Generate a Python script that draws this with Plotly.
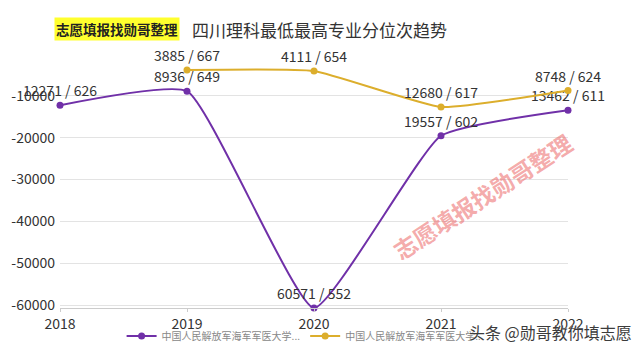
import plotly.graph_objects as go

# 四川理科 历年最低/最高专业位次与分数
years = ["2018", "2019", "2020", "2021", "2022"]

# 系列一（紫色）：位次与分数
purple_rank = [12271, 8936, 60571, 19557, 13462]
purple_score = [626, 649, 552, 602, 611]

# 系列二（金色）：2018 无数据
gold_rank = [None, 3885, 4111, 12680, 8748]
gold_score = [None, 667, 654, 617, 624]

series_names = ["中国人民解放军海军军医大学...", "中国人民解放军海军军医大学..."]

y_ticks = [-10000, -20000, -30000, -40000, -50000, -60000]

PURPLE = "#7030a8"
GOLD = "#dcae2c"
FONT = "Noto Sans CJK SC"


def neg(vals):
    return [None if v is None else -v for v in vals]


def labels(ranks, scores):
    return ["" if r is None else f"{r} / {s}" for r, s in zip(ranks, scores)]


fig = go.Figure()

for name, ranks, scores, color in [
    (series_names[0], purple_rank, purple_score, PURPLE),
    (series_names[1], gold_rank, gold_score, GOLD),
]:
    fig.add_trace(go.Scatter(
        x=years,
        y=neg(ranks),
        name=name,
        mode="lines+markers+text",
        line=dict(color=color, width=2, shape="spline", smoothing=0.42),
        marker=dict(color=color, size=7),
        text=labels(ranks, scores),
        textposition="top center",
        textfont=dict(family=FONT, size=14, color="#333333"),
        cliponaxis=False,
    ))

fig.update_layout(
    width=640,
    height=350,
    margin=dict(l=60, r=72, t=60, b=42),
    paper_bgcolor="white",
    plot_bgcolor="white",
    font=dict(family=FONT, color="#333333"),
    showlegend=True,
    legend=dict(
        orientation="h",
        xref="container", yref="container",
        x=0.19, xanchor="left",
        y=0.04, yanchor="middle",
        font=dict(family=FONT, size=10, color="#888888"),
        bgcolor="rgba(0,0,0,0)",
        itemwidth=30,
        tracegroupgap=0,
    ),
    xaxis=dict(
        type="category",
        range=[0, 4],
        automargin=False,
        showgrid=False,
        showline=True,
        linecolor="#cccccc",
        linewidth=1,
        ticks="outside",
        ticklen=3,
        tickcolor="#cccccc",
        ticklabelstandoff=0,
        tickfont=dict(family=FONT, size=14, color="#333333"),
        zeroline=False,
        fixedrange=True,
    ),
    yaxis=dict(
        range=[-60600, -1500],
        automargin=False,
        tickvals=y_ticks,
        ticktext=[str(v) for v in y_ticks],
        showgrid=True,
        gridcolor="#e3e3e3",
        gridwidth=1,
        zeroline=False,
        showline=False,
        ticks="",
        ticklabelstandoff=4,
        tickfont=dict(family=FONT, size=14, color="#333333"),
    ),
)

annotations = [
    # 标题左侧高亮标签
    dict(
        text="<b>志愿填报找勋哥整理</b>",
        x=-0.012, xref="paper", xanchor="left",
        y=1.125, yref="paper", yanchor="middle",
        showarrow=False,
        bgcolor="#ffff2e",
        borderpad=1,
        font=dict(family=FONT, size=13.5, color="#222222"),
    ),
    # 标题
    dict(
        text="四川理科最低最高专业分位次趋势",
        x=0.255, xref="paper", xanchor="left",
        y=1.125, yref="paper", yanchor="middle",
        showarrow=False,
        font=dict(family=FONT, size=17, color="#333333"),
    ),
    # 斜向水印
    dict(
        text="<b>志愿填报找勋哥整理</b>",
        x=0.832, xref="paper", xanchor="center",
        y=0.45, yref="paper", yanchor="middle",
        textangle=-33,
        showarrow=False,
        font=dict(family=FONT, size=23, color="rgba(236,100,100,0.55)"),
    ),
    # 右下角署名
    dict(
        text="头条 @勋哥教你填志愿",
        x=1.13, xref="paper", xanchor="right",
        y=-0.097, yref="paper", yanchor="middle",
        showarrow=False,
        font=dict(family=FONT, size=16, color="#3c3c3c",
                  shadow="0px 0px 2px white"),
    ),
]
fig.update_layout(annotations=annotations)

fig.write_html("out.html")
